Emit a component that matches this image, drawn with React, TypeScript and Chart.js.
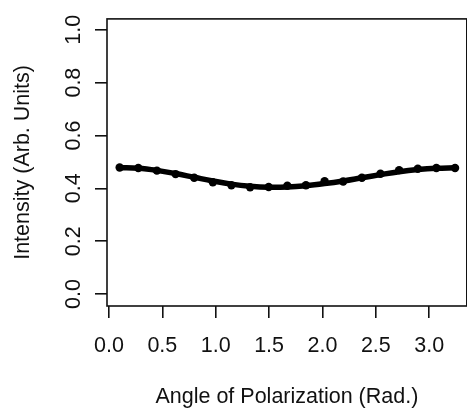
import React, { useEffect, useRef } from "react";
import { Chart, registerables } from "chart.js";

Chart.register(...registerables);

// Polarization angle samples (radians), 10° steps starting at 0.1 rad
const angles = [
  0.1, 0.275, 0.449, 0.624, 0.798, 0.973, 1.147, 1.322, 1.496, 1.671,
  1.845, 2.02, 2.194, 2.369, 2.543, 2.718, 2.893, 3.067, 3.242,
];
// Measured intensity at each angle
const measured = [
  0.479, 0.477, 0.467, 0.454, 0.44, 0.423, 0.412, 0.404, 0.405, 0.41,
  0.412, 0.427, 0.426, 0.44, 0.455, 0.469, 0.474, 0.477, 0.477,
];
// Smooth fitted curve through the measurements
const fitted = [
  0.478, 0.476, 0.468, 0.456, 0.442, 0.428, 0.416, 0.408, 0.404, 0.405,
  0.41, 0.418, 0.428, 0.44, 0.452, 0.463, 0.471, 0.476, 0.478,
];
const xTicks = [0, 0.5, 1, 1.5, 2, 2.5, 3];
const yTicks = [0, 0.2, 0.4, 0.6, 0.8, 1];

const FONT = "'Liberation Sans', Arial, sans-serif";
const INK = "#111";
const SIZE = 21.5;

const boxPlugin = {
  id: "plotBox",
  afterDraw(chart: any) {
    const { ctx, chartArea } = chart;
    ctx.save();
    ctx.strokeStyle = INK;
    ctx.lineWidth = 1.6;
    ctx.strokeRect(chartArea.left, chartArea.top, chartArea.right - chartArea.left, chartArea.bottom - chartArea.top);
    ctx.restore();
  },
};

export default function App() {
  const ref = useRef<HTMLCanvasElement | null>(null);

  useEffect(() => {
    if (!ref.current) return;
    const chart = new Chart(ref.current, {
      type: "line",
      data: {
        datasets: [
          {
            label: "fit",
            data: angles.map((a, i) => ({ x: a, y: fitted[i] })),
            borderColor: "#000",
            borderWidth: 5.5,
            pointRadius: 0,
            tension: 0.4,
            fill: false,
          },
          {
            label: "measured",
            data: angles.map((a, i) => ({ x: a, y: measured[i] })),
            showLine: false,
            pointRadius: 4.2,
            pointBackgroundColor: "#000",
            pointBorderColor: "#000",
            pointBorderWidth: 0,
          },
        ],
      },
      options: {
        animation: false,
        responsive: false,
        maintainAspectRatio: false,
        layout: { padding: { left: 0, top: 16, right: 0, bottom: 0 } },
        plugins: { legend: { display: false }, tooltip: { enabled: false } },
        scales: {
          x: {
            type: "linear",
            min: -0.0185,
            max: 3.352,
            afterBuildTicks: (s: any) => {
              s.ticks = xTicks.map((v) => ({ value: v }));
            },
            afterFit: (s: any) => {
              s.height = 105;
            },
            border: { display: false },
            grid: {
              drawOnChartArea: false,
              drawTicks: true,
              tickLength: 12,
              color: INK,
              lineWidth: 1.6,
            },
            ticks: {
              autoSkip: false,
              maxRotation: 0,
              padding: 15,
              color: INK,
              font: { family: FONT, size: SIZE },
              callback: (v: any) => Number(v).toFixed(1),
            },
            title: {
              display: true,
              text: "Angle of Polarization (Rad.)",
              color: INK,
              font: { family: FONT, size: SIZE },
              padding: { top: 0, bottom: 1 },
            },
          },
          y: {
            type: "linear",
            min: -0.045,
            max: 1.041,
            afterBuildTicks: (s: any) => {
              s.ticks = yTicks.map((v) => ({ value: v }));
            },
            afterFit: (s: any) => {
              s.width = 107;
            },
            border: { display: false },
            grid: {
              drawOnChartArea: false,
              drawTicks: true,
              tickLength: 12,
              color: INK,
              lineWidth: 1.6,
            },
            ticks: {
              autoSkip: false,
              minRotation: 90,
              maxRotation: 90,
              crossAlign: "center",
              padding: 6,
              color: INK,
              font: { family: FONT, size: SIZE },
              callback: (v: any) => Number(v).toFixed(1),
            },
            title: {
              display: true,
              text: "Intensity (Arb. Units)",
              color: INK,
              font: { family: FONT, size: SIZE },
              padding: { top: 10, bottom: 0 },
            },
          },
        },
      },
      plugins: [boxPlugin],
    });
    return () => chart.destroy();
  }, []);

  return (
    <div style={{ position: "fixed", left: 0, top: 0, width: 467, height: 411, overflow: "hidden", background: "#fff" }}>
      <canvas ref={ref} width={471} height={411} style={{ display: "block" }} />
    </div>
  );
}
